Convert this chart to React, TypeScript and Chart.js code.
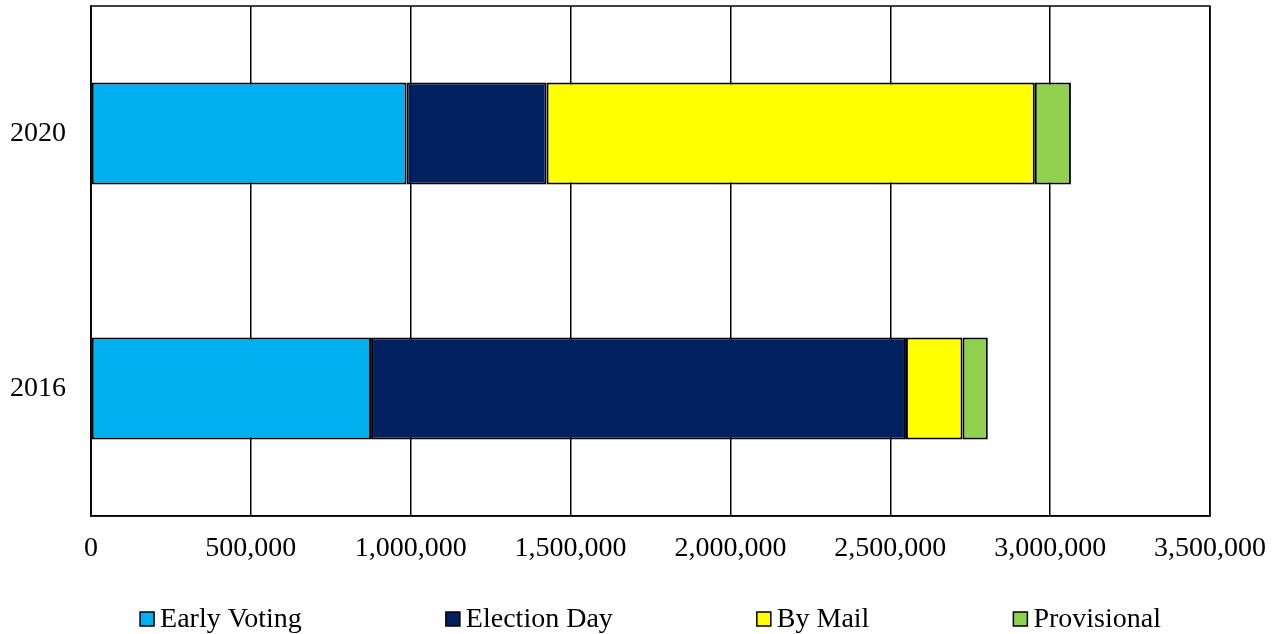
import React, { useEffect, useRef } from 'react';
import { Chart, registerables } from 'chart.js';

Chart.register(...registerables);

const years = ['2020', '2016'];
const seriesNames = ['Early Voting', 'Election Day', 'By Mail', 'Provisional'];
const earlyVoting = [987000, 876000];
const electionDay = [438000, 1673000];
const byMail = [1527000, 177000];
const provisional = [113000, 79000];
const seriesColors = ['#00B0F0', '#002060', '#FFFF00', '#92D050'];
const axisMax = 3500000;
const axisStep = 500000;

const FONT_FAMILY = '"Liberation Serif", "Times New Roman", serif';
const FONT_SIZE = 28;

const boxPlugin = {
  id: 'plotBox',
  beforeDatasetsDraw(chart: any) {
    const { ctx, chartArea } = chart;
    ctx.save();
    ctx.strokeStyle = '#000';
    ctx.lineWidth = 1.5;
    ctx.strokeRect(chartArea.left, chartArea.top, chartArea.right - chartArea.left, chartArea.bottom - chartArea.top);
    ctx.restore();
  },
};

const legendPlugin = {
  id: 'excelLegend',
  afterDraw(chart: any) {
    const { ctx, chartArea } = chart;
    ctx.save();
    ctx.font = `${FONT_SIZE}px ${FONT_FAMILY}`;
    const box = 14;
    const gapText = 6;
    const gapItem = 144;
    const items = chart.data.datasets.map((ds: any) => ({
      text: ds.label,
      color: ds.backgroundColor,
      w: box + gapText + ctx.measureText(ds.label).width,
    }));
    const total = items.reduce((s: number, it: any) => s + it.w, 0) + gapItem * (items.length - 1);
    let x = (chartArea.left + chartArea.right) / 2 - total / 2;
    const baseline = chartArea.bottom + 111;
    items.forEach((it: any) => {
      ctx.fillStyle = it.color;
      ctx.fillRect(x, baseline - 15, box, box);
      ctx.strokeStyle = '#000';
      ctx.lineWidth = 1.5;
      ctx.strokeRect(x, baseline - 15, box, box);
      ctx.fillStyle = '#000';
      ctx.textBaseline = 'alphabetic';
      ctx.textAlign = 'left';
      ctx.fillText(it.text, x + box + gapText, baseline);
      x += it.w + gapItem;
    });
    ctx.restore();
  },
};

function zeroPadding(scale: any) {
  scale.paddingTop = 0;
  scale.paddingBottom = 0;
  scale.paddingLeft = 0;
  scale.paddingRight = 0;
}

export default function App() {
  const canvasRef = useRef<HTMLCanvasElement | null>(null);

  useEffect(() => {
    document.body.style.margin = '0';
    const canvas = canvasRef.current;
    if (!canvas) return;
    const seriesValues = [earlyVoting, electionDay, byMail, provisional];
    const chart = new Chart(canvas, {
      type: 'bar',
      data: {
        labels: years,
        datasets: seriesNames.map((name, i) => ({
          label: name,
          data: seriesValues[i],
          backgroundColor: seriesColors[i],
          borderColor: '#000',
          borderWidth: 2,
          borderSkipped: false,
          barPercentage: 0.4,
          categoryPercentage: 1,
        })),
      },
      options: {
        indexAxis: 'y',
        responsive: false,
        animation: false,
        layout: { padding: { top: 6, right: 68, bottom: 58, left: 0 } },
        plugins: {
          legend: { display: false },
          tooltip: { enabled: false },
        },
        scales: {
          x: {
            stacked: true,
            min: 0,
            max: axisMax,
            afterFit: (scale: any) => {
              scale.height = 60;
              zeroPadding(scale);
            },
            ticks: {
              stepSize: axisStep,
              padding: 16,
              color: '#000',
              font: { family: FONT_FAMILY, size: FONT_SIZE },
              callback: (v: any) => Number(v).toLocaleString('en-US'),
              maxRotation: 0,
            },
            grid: { color: '#000', lineWidth: 1.5, drawTicks: false },
            border: { display: true, color: '#000', width: 1.5 },
          },
          y: {
            stacked: true,
            afterFit: (scale: any) => {
              scale.width = 91;
              zeroPadding(scale);
            },
            ticks: {
              padding: 25,
              color: '#000',
              font: { family: FONT_FAMILY, size: FONT_SIZE },
            },
            grid: { display: false, drawTicks: false },
            border: { display: true, color: '#000', width: 1.5 },
          },
        },
      },
      plugins: [boxPlugin, legendPlugin],
    });
    return () => chart.destroy();
  }, []);

  return (
    <div style={{ width: 1278, height: 634 }}>
      <canvas ref={canvasRef} width={1278} height={634} />
    </div>
  );
}
